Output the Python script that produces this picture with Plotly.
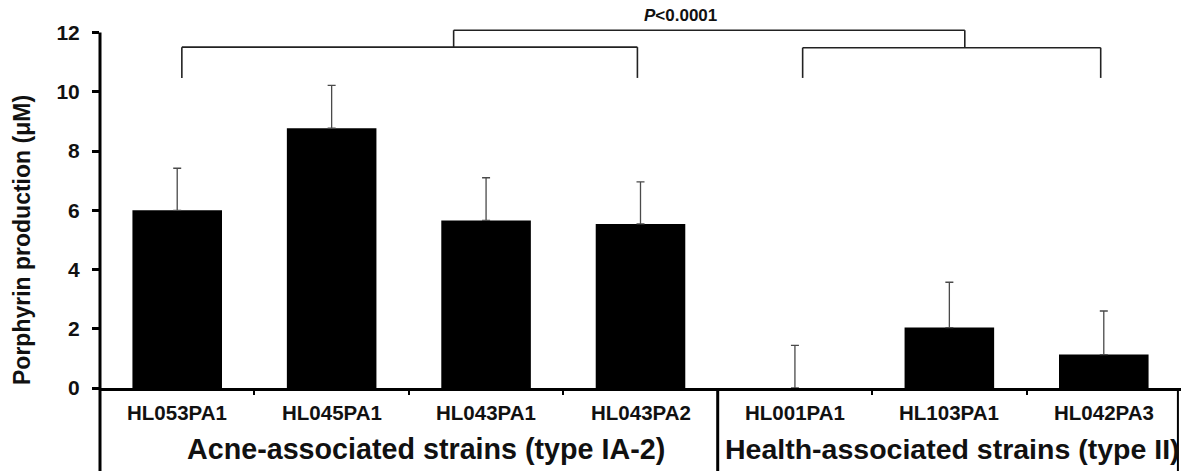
import plotly.graph_objects as go

# Strains and measured porphyrin production (mean and upper SD)
strains = ["HL053PA1", "HL045PA1", "HL043PA1", "HL043PA2", "HL001PA1", "HL103PA1", "HL042PA3"]
porphyrin_mean = [6.00, 8.77, 5.66, 5.54, 0.00, 2.04, 1.13]
porphyrin_sd = [1.42, 1.45, 1.44, 1.42, 1.44, 1.53, 1.47]
group_labels = ["Acne-associated strains (type IA-2)", "Health-associated strains (type II)"]
y_ticks = [0, 2, 4, 6, 8, 10, 12]
p_label = "<b><i>P</i>&lt;0.0001</b>"

FONT = "Liberation Sans, Arial, sans-serif"
W, H = 1183, 471
M_L, M_R, M_T, M_B = 100, 2, 3, 83
Y_MAX = 13.0
plot_h = H - M_T - M_B

def py(pixel_y):
    """paper y for a pixel row measured from the top of the page"""
    return (H - M_B - pixel_y) / plot_h

x = list(range(len(strains)))

fig = go.Figure()
fig.add_trace(go.Bar(
    x=x, y=porphyrin_mean, width=0.58,
    marker=dict(color="black", line=dict(width=0)),
    error_y=dict(type="data", symmetric=False, array=porphyrin_sd,
                 arrayminus=[0] * len(strains), color="#4a4a4a",
                 thickness=1.3, width=4),
    showlegend=False,
))

shapes = []

def seg(x0, y0, x1, y1, **kw):
    d = dict(type="line", x0=x0, y0=y0, x1=x1, y1=y1,
             line=dict(color=kw.pop("color", "#222222"), width=kw.pop("width", 1.6)))
    d.update(kw)
    shapes.append(d)

# significance brackets
def bracket(xa, xb, y_top, y_leg):
    seg(xa, y_top, xb, y_top, xref="x", yref="y")
    seg(xa, y_top, xa, y_leg, xref="x", yref="y")
    seg(xb, y_top, xb, y_leg, xref="x", yref="y")

bracket(0.03, 2.98, 11.51, 10.47)
bracket(4.05, 5.98, 11.49, 10.47)
bracket(1.79, 5.10, 12.08, 11.51)

# left frame line: y axis up to 12, continuing down to page bottom
seg(0, y_ticks[-1] / Y_MAX, 0, py(H), xref="x domain", yref="y domain",
    color="black", width=3)
# divider between strain groups and right border of the label table
seg(3.5, 0, 3.5, py(H), xref="x", yref="paper", color="black", width=3)
seg(6.48, 0, 6.48, py(H), xref="x", yref="paper", color="black", width=2)

annotations = []
for i, s in enumerate(strains):
    annotations.append(dict(x=i, y=py(412.5), xref="x", yref="paper", text=s,
                            showarrow=False, xanchor="center", yanchor="middle",
                            font=dict(family=FONT, size=20.5, color="#111111", weight="bold")))
annotations.append(dict(x=1.61, y=py(449), xref="x", yref="paper", text=group_labels[0],
                        showarrow=False, xanchor="center", yanchor="middle",
                        font=dict(family=FONT, size=28.7, color="#111111", weight="bold")))
annotations.append(dict(x=5.02, y=py(449), xref="x", yref="paper", text=group_labels[1],
                        showarrow=False, xanchor="center", yanchor="middle",
                        font=dict(family=FONT, size=28.5, color="#111111", weight="bold")))
annotations.append(dict(x=3.26, y=12.58, xref="x", yref="y", text=p_label,
                        showarrow=False, xanchor="center", yanchor="middle",
                        font=dict(family=FONT, size=17, color="#111111")))
annotations.append(dict(x=(22 - M_L) / (W - M_L - M_R), y=py(240), xref="paper", yref="paper",
                        text="Porphyrin production (μM)", textangle=-90, showarrow=False,
                        xanchor="center", yanchor="middle",
                        font=dict(family=FONT, size=23, color="#111111", weight="bold")))

fig.update_layout(
    width=W, height=H,
    margin=dict(l=M_L, r=M_R, t=M_T, b=M_B, autoexpand=False),
    paper_bgcolor="white", plot_bgcolor="white",
    shapes=shapes, annotations=annotations,
    bargap=0.42,
)
fig.update_xaxes(
    range=[-0.5, len(strains) - 0.5], showgrid=False, zeroline=False,
    showline=True, linecolor="black", linewidth=3,
    tickmode="array", tickvals=[0.5, 1.5, 2.5, 4.5, 5.5],
    ticks="outside", ticklen=4, tickwidth=2, tickcolor="black",
    showticklabels=False,
)
fig.update_yaxes(
    range=[0, Y_MAX], showgrid=False, zeroline=False, showline=False,
    tickmode="array", tickvals=y_ticks,
    ticks="outside", ticklen=7, tickwidth=3, tickcolor="black",
    ticklabelstandoff=8,
    tickfont=dict(family=FONT, size=21, color="#111111", weight="bold"),
)

fig.write_html("out.html")
